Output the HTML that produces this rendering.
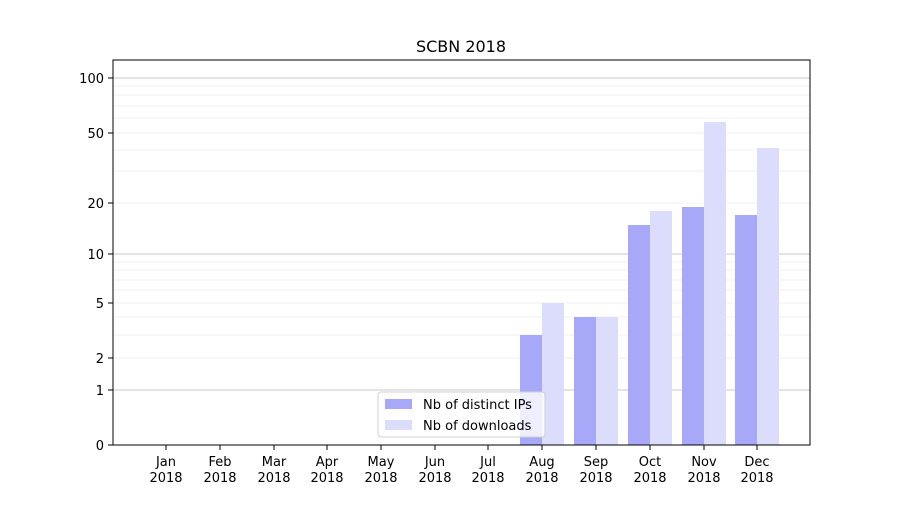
<!DOCTYPE html>
<html><head><meta charset="utf-8"><style>body{margin:0;background:#fff}</style></head><body>
<svg width="900" height="500" xmlns="http://www.w3.org/2000/svg" font-family="DejaVu Sans, sans-serif" font-size="13">
<rect width="900" height="500" fill="#fff"/>
<g stroke="#ebebeb" stroke-width="0.8">
<line x1="113" x2="810" y1="358" y2="358"/><line x1="113" x2="810" y1="335" y2="335"/><line x1="113" x2="810" y1="317" y2="317"/><line x1="113" x2="810" y1="303" y2="303"/><line x1="113" x2="810" y1="290" y2="290"/><line x1="113" x2="810" y1="280" y2="280"/><line x1="113" x2="810" y1="270" y2="270"/><line x1="113" x2="810" y1="262" y2="262"/>
<line x1="113" x2="810" y1="203" y2="203"/><line x1="113" x2="810" y1="171" y2="171"/><line x1="113" x2="810" y1="150" y2="150"/><line x1="113" x2="810" y1="133" y2="133"/><line x1="113" x2="810" y1="118" y2="118"/><line x1="113" x2="810" y1="106" y2="106"/><line x1="113" x2="810" y1="95" y2="95"/><line x1="113" x2="810" y1="86" y2="86"/>
</g>
<g stroke="#c8c8c8" stroke-width="1">
<line x1="113" x2="810" y1="390" y2="390"/><line x1="113" x2="810" y1="254" y2="254"/><line x1="113" x2="810" y1="78" y2="78"/>
</g>
<g fill="#a8a8f8">
<rect x="520" y="335" width="22" height="110"/><rect x="574" y="317" width="22" height="128"/><rect x="628" y="225" width="22" height="220"/><rect x="682" y="207" width="22" height="238"/><rect x="735" y="215" width="22" height="230"/>
</g>
<g fill="#dcdcfc">
<rect x="542" y="303" width="22" height="142"/><rect x="596" y="317" width="22" height="128"/><rect x="650" y="211" width="22" height="234"/><rect x="704" y="122" width="22" height="323"/><rect x="757" y="148" width="22" height="297"/>
</g>
<rect x="113" y="60" width="697" height="385" fill="none" stroke="#000" stroke-width="1"/>
<g stroke="#000"><line x1="108" x2="113" y1="445" y2="445"/><line x1="108" x2="113" y1="390" y2="390"/><line x1="108" x2="113" y1="358" y2="358"/><line x1="108" x2="113" y1="303" y2="303"/><line x1="108" x2="113" y1="254" y2="254"/><line x1="108" x2="113" y1="203" y2="203"/><line x1="108" x2="113" y1="133" y2="133"/><line x1="108" x2="113" y1="78" y2="78"/></g>
<g text-anchor="end"><text x="104" y="450">0</text><text x="104" y="395">1</text><text x="104" y="363">2</text><text x="104" y="308">5</text><text x="104" y="259">10</text><text x="104" y="208">20</text><text x="104" y="138">50</text><text x="104" y="83">100</text></g>
<g text-anchor="middle">
<g stroke="#000"><line x1="166" x2="166" y1="445" y2="450"/><line x1="220" x2="220" y1="445" y2="450"/><line x1="274" x2="274" y1="445" y2="450"/><line x1="327" x2="327" y1="445" y2="450"/><line x1="381" x2="381" y1="445" y2="450"/><line x1="435" x2="435" y1="445" y2="450"/><line x1="488" x2="488" y1="445" y2="450"/><line x1="542" x2="542" y1="445" y2="450"/><line x1="596" x2="596" y1="445" y2="450"/><line x1="650" x2="650" y1="445" y2="450"/><line x1="704" x2="704" y1="445" y2="450"/><line x1="757" x2="757" y1="445" y2="450"/></g>
<text x="166" y="466">Jan</text><text x="220" y="466">Feb</text><text x="274" y="466">Mar</text><text x="327" y="466">Apr</text><text x="381" y="466">May</text><text x="435" y="466">Jun</text><text x="488" y="466">Jul</text><text x="542" y="466">Aug</text><text x="596" y="466">Sep</text><text x="650" y="466">Oct</text><text x="704" y="466">Nov</text><text x="757" y="466">Dec</text>
<text x="166" y="482">2018</text><text x="220" y="482">2018</text><text x="274" y="482">2018</text><text x="327" y="482">2018</text><text x="381" y="482">2018</text><text x="435" y="482">2018</text><text x="488" y="482">2018</text><text x="542" y="482">2018</text><text x="596" y="482">2018</text><text x="650" y="482">2018</text><text x="704" y="482">2018</text><text x="757" y="482">2018</text>
<text x="461" y="52" font-size="16">SCBN 2018</text>
</g>
<rect x="378" y="392" width="167" height="45" rx="3" fill="#fff" fill-opacity="0.8" stroke="#d0d0d0"/>
<rect x="385" y="399" width="27" height="10" fill="#a8a8f8"/><text x="423" y="409">Nb of distinct IPs</text>
<rect x="385" y="420" width="27" height="10" fill="#dcdcfc"/><text x="423" y="430">Nb of downloads</text>
</svg>
</body></html>
